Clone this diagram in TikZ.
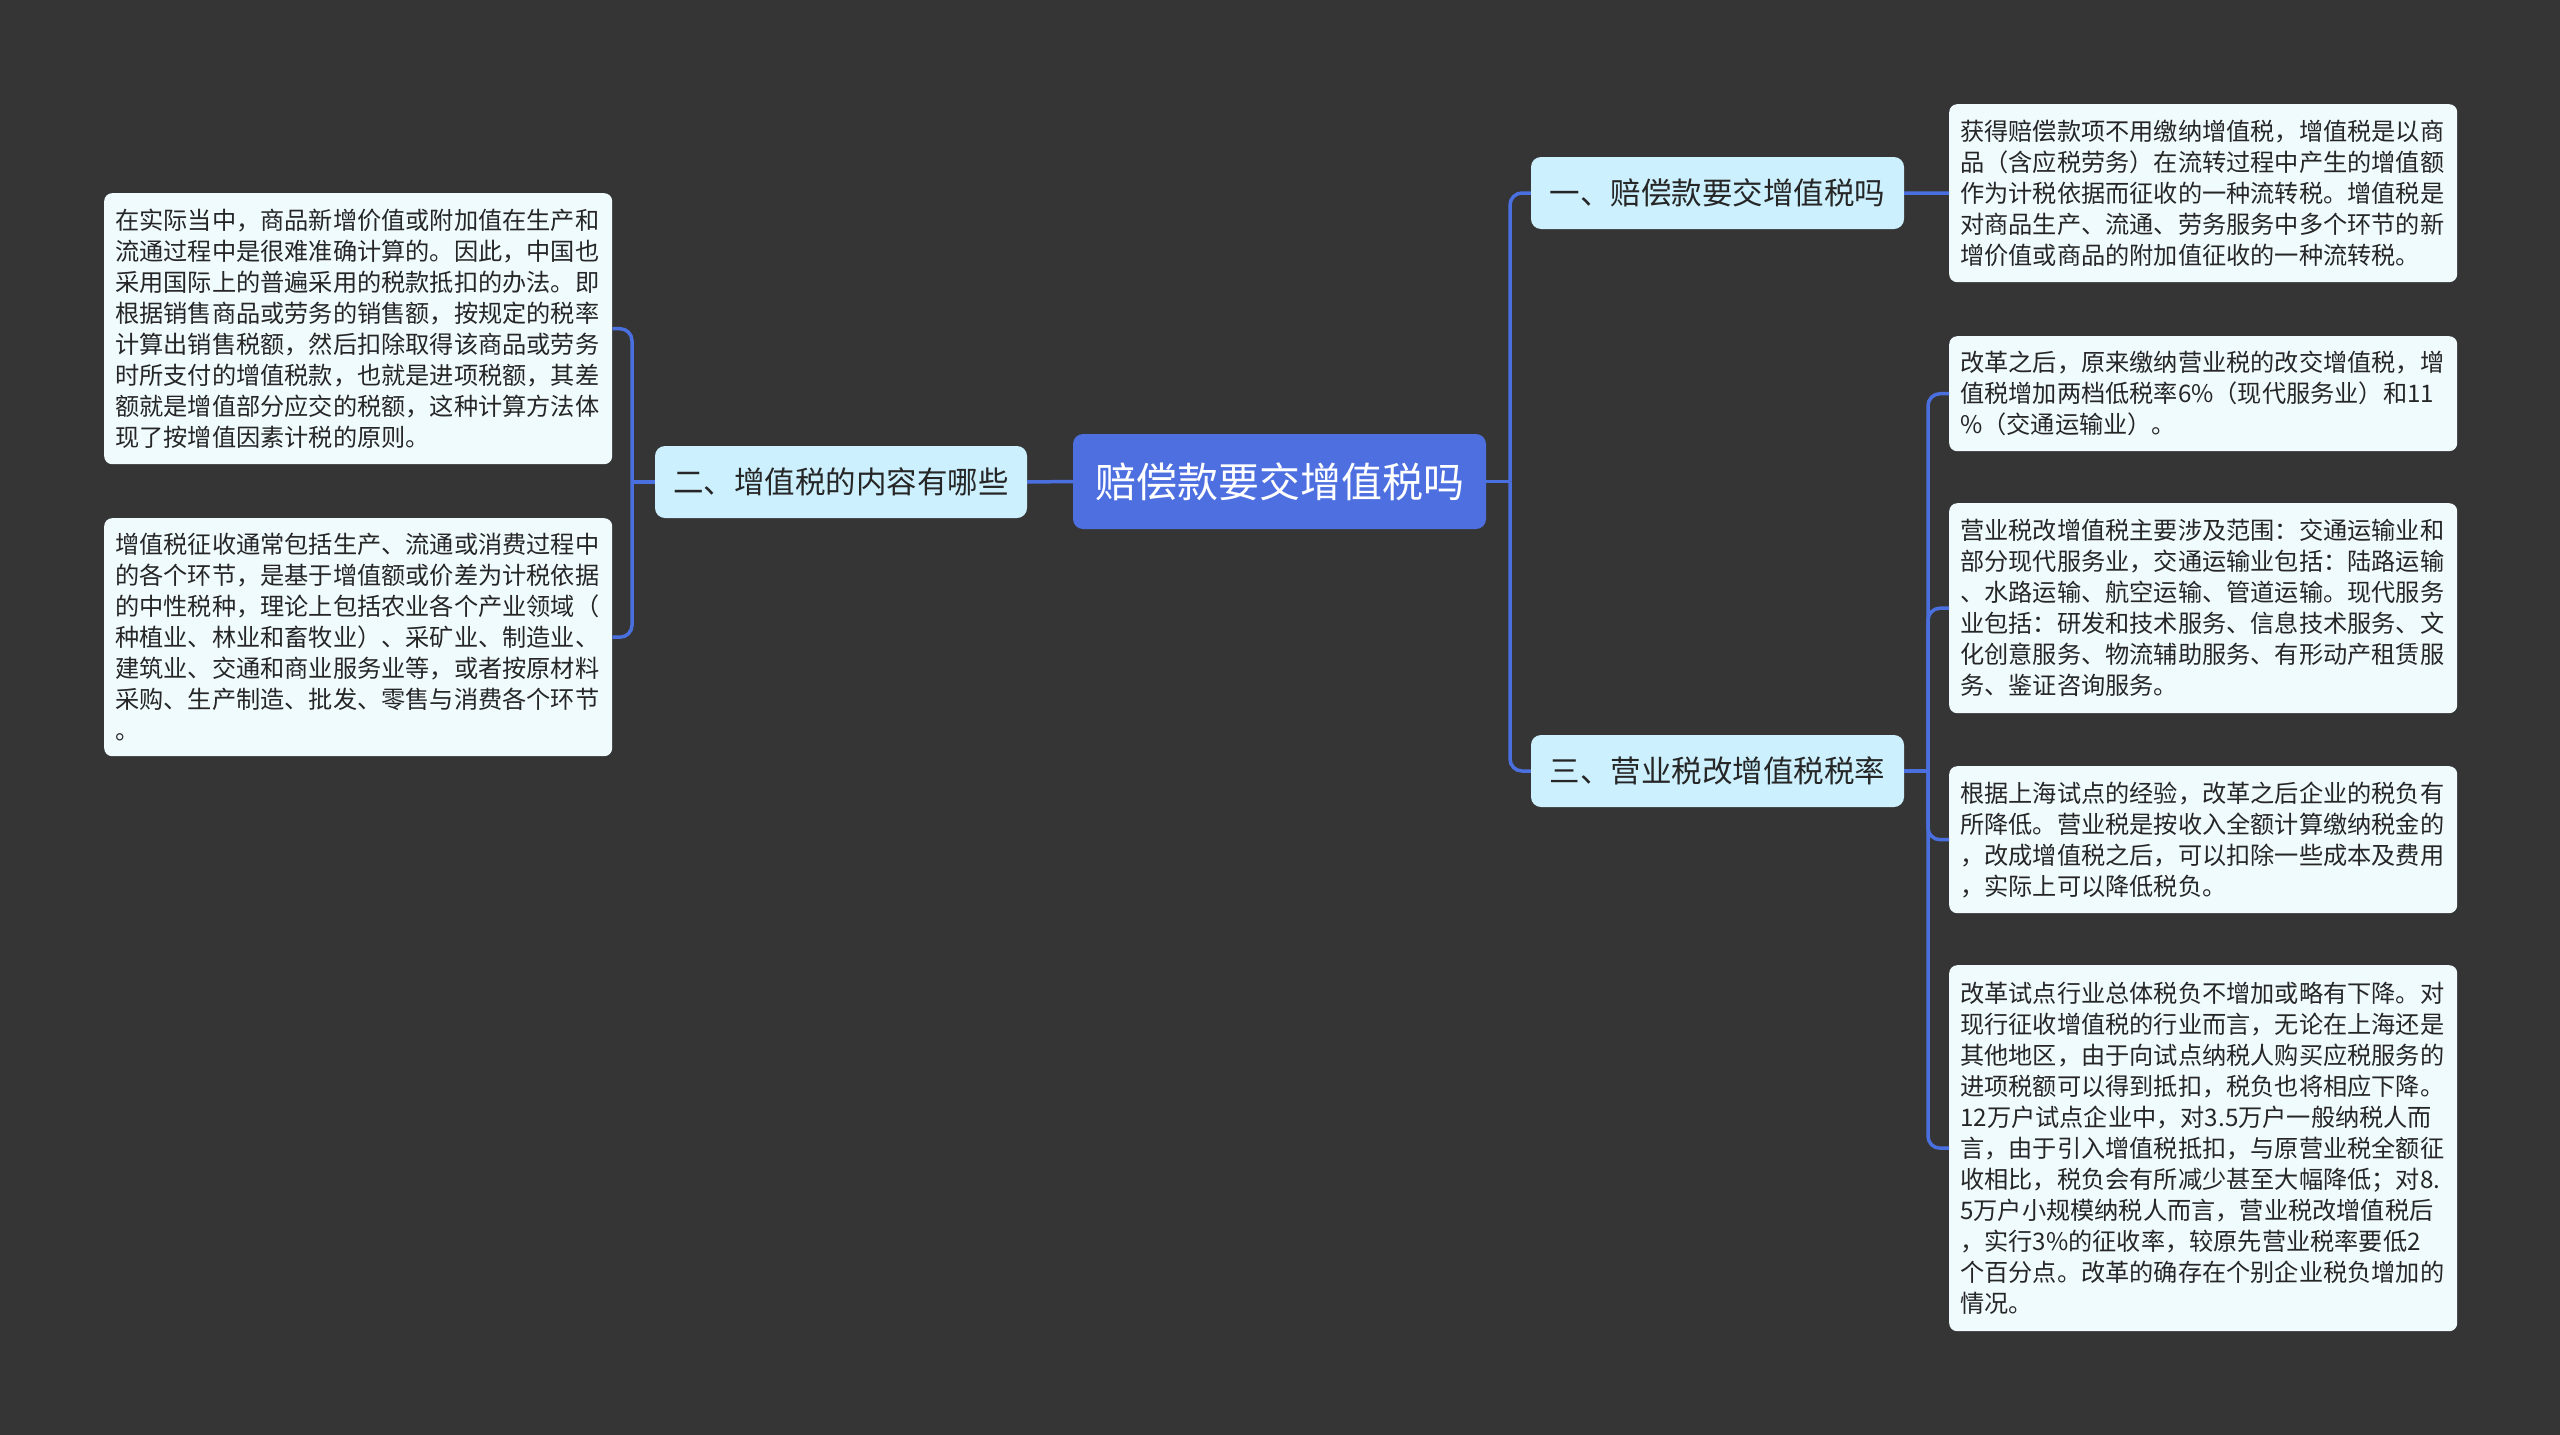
\documentclass[tikz,border=0pt]{standalone}
\usepackage{fontspec}
\newfontfamily\cjk{Noto Sans CJK SC}
\definecolor{bgc}{HTML}{363536}
\definecolor{rootc}{HTML}{4D6FE0}
\definecolor{branchc}{HTML}{CCF0FE}
\definecolor{leafc}{HTML}{F0FBFE}
\definecolor{linec}{HTML}{4A6FDF}
\definecolor{txtc}{HTML}{262626}
\tikzset{
  rootbox/.style={fill=rootc, rounded corners=10pt, text=white, font=\cjk\fontsize{41}{48}\selectfont, inner sep=0pt},
  branchbox/.style={fill=branchc, rounded corners=10pt, text=txtc, font=\cjk\fontsize{30.5}{36}\selectfont, inner sep=0pt},
  leafbox/.style={fill=leafc, rounded corners=8pt, text=txtc, font=\cjk\fontsize{24.2}{31}\selectfont, inner xsep=11pt, inner ysep=0pt, text width=486pt, align=left, anchor=north west, minimum width=507pt},
  conn/.style={draw=linec, line width=3.5pt, rounded corners=12pt}
}
\begin{document}
\begin{tikzpicture}[x=1pt, y=-1pt]
\useasboundingbox (0,0) rectangle (2560,1435);
\fill[bgc] (0,0) rectangle (2560,1435);

% root
\node[rootbox, minimum width=413pt, minimum height=95pt] (root) at (1279.5,481.5) {赔偿款要交增值税吗};

% branches
\node[branchbox, minimum width=372pt, minimum height=72pt] (b2) at (841,482) {二、增值税的内容有哪些};
\node[branchbox, minimum width=373pt, minimum height=72pt] (b1) at (1717.5,193) {一、赔偿款要交增值税吗};
\node[branchbox, minimum width=373pt, minimum height=72pt] (b3) at (1717.5,771) {三、营业税改增值税税率};

% left leaves
\node[leafbox, minimum height=271pt] (l1) at (104,193) {在实际当中，商品新增价值或附加值在生产和\\流通过程中是很难准确计算的。因此，中国也\\采用国际上的普遍采用的税款抵扣的办法。即\\根据销售商品或劳务的销售额，按规定的税率\\计算出销售税额，然后扣除取得该商品或劳务\\时所支付的增值税款，也就是进项税额，其差\\额就是增值部分应交的税额，这种计算方法体\\现了按增值因素计税的原则。};
\node[leafbox, minimum height=238pt] (l2) at (104,518) {增值税征收通常包括生产、流通或消费过程中\\的各个环节，是基于增值额或价差为计税依据\\的中性税种，理论上包括农业各个产业领域（\\种植业、林业和畜牧业）、采矿业、制造业、\\建筑业、交通和商业服务业等，或者按原材料\\采购、生产制造、批发、零售与消费各个环节\\。};

% right leaves
\node[leafbox, minimum height=178pt] (r1) at (1949,104) {获得赔偿款项不用缴纳增值税，增值税是以商\\品（含应税劳务）在流转过程中产生的增值额\\作为计税依据而征收的一种流转税。增值税是\\对商品生产、流通、劳务服务中多个环节的新\\增价值或商品的附加值征收的一种流转税。};
\node[leafbox, minimum height=115pt] (r2) at (1949,336) {改革之后，原来缴纳营业税的改交增值税，增\\值税增加两档低税率6\%（现代服务业）和11\\\%（交通运输业）。};
\node[leafbox, minimum height=210pt] (r3) at (1949,503) {营业税改增值税主要涉及范围：交通运输业和\\部分现代服务业，交通运输业包括：陆路运输\\、水路运输、航空运输、管道运输。现代服务\\业包括：研发和技术服务、信息技术服务、文\\化创意服务、物流辅助服务、有形动产租赁服\\务、鉴证咨询服务。};
\node[leafbox, minimum height=147pt] (r4) at (1949,766) {根据上海试点的经验，改革之后企业的税负有\\所降低。营业税是按收入全额计算缴纳税金的\\，改成增值税之后，可以扣除一些成本及费用\\，实际上可以降低税负。};
\node[leafbox, minimum height=366pt] (r5) at (1949,965) {改革试点行业总体税负不增加或略有下降。对\\现行征收增值税的行业而言，无论在上海还是\\其他地区，由于向试点纳税人购买应税服务的\\进项税额可以得到抵扣，税负也将相应下降。\\12万户试点企业中，对3.5万户一般纳税人而\\言，由于引入增值税抵扣，与原营业税全额征\\收相比，税负会有所减少甚至大幅降低；对8.\\5万户小规模纳税人而言，营业税改增值税后\\，实行3\%的征收率，较原先营业税率要低2\\个百分点。改革的确存在个别企业税负增加的\\情况。};

% junction coordinates
\coordinate (jl) at (632,482);
\coordinate (jr) at (1510,481.5);
\coordinate (j3) at (1928,771);

% connectors
\draw[conn] (root.west) -- (b2.east);
\draw[conn] (b2.west) -- (jl);
\draw[conn] (jl) |- (l1.east);
\draw[conn] (jl) |- (l2.east);
\draw[conn] (root.east) -- (jr);
\draw[conn] (jr) |- (b1.west);
\draw[conn] (jr) |- (b3.west);
\draw[conn] (b1.east) -- (r1.west);
\draw[conn] (b3.east) -- (j3);
\draw[conn] (j3) |- (r2.west);
\draw[conn] (j3) |- (r3.west);
\draw[conn] (j3) |- (r4.west);
\draw[conn] (j3) |- (r5.west);
\end{tikzpicture}
\end{document}
